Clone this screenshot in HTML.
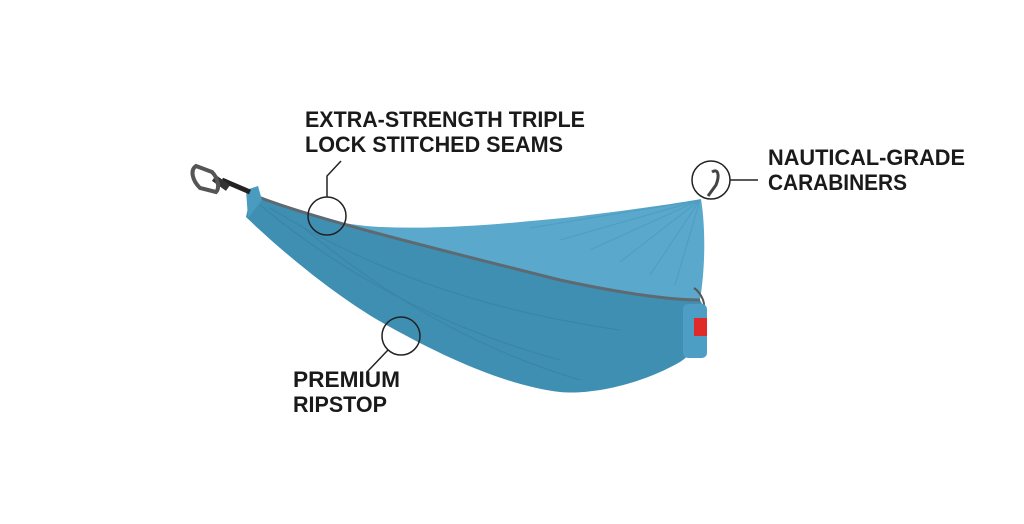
<!DOCTYPE html>
<html><head><style>html,body{margin:0;padding:0;background:#fff;}svg{display:block}</style></head>
<body>
<svg width="1024" height="524" viewBox="0 0 1024 524" xmlns="http://www.w3.org/2000/svg">
<rect width="1024" height="524" fill="#fff"/>
<!-- lower (outer) body -->
<path d="M251,194 C300,215 420,245 560,280 C620,293 670,300 700,300 C712,320 705,345 680,362 C640,385 590,395 560,392 C500,385 430,350 376,319 C320,285 270,240 246,217 Z" fill="#3f8fb3"/>
<!-- upper inner -->
<path d="M251,194 C300,215 340,225 380,227 C450,230 520,222 573,217 C630,210 680,203 701,199 C706,230 705,270 700,300 C670,300 620,293 560,280 C420,245 300,215 251,194 Z" fill="#5aa9cc"/>
<!-- pleats -->
<g stroke="#4b9ac0" stroke-width="1.2" fill="none" opacity="0.7">
<path d="M700,200 L560,240"/><path d="M700,200 L590,250"/><path d="M700,200 L620,262"/><path d="M700,200 L650,275"/><path d="M700,200 L675,285"/><path d="M700,200 L530,228"/>
</g>
<g stroke="#36809f" stroke-width="1.2" fill="none" opacity="0.6">
<path d="M260,205 C350,280 450,330 560,360"/><path d="M270,208 C370,270 480,310 620,330"/><path d="M300,225 C390,300 480,350 580,380"/>
</g>
<!-- seam -->
<path d="M251,194 C300,215 420,245 560,280 C620,293 670,300 700,300" stroke="#5d6a72" stroke-width="3" fill="none"/>
<!-- left end & strap -->
<path d="M246,190 L258,186 L262,200 L248,218 Z" fill="#4a9bc0"/>
<path d="M222,180 L250,192" stroke="#222" stroke-width="5"/>
<path d="M214,178 L228,188" stroke="#333" stroke-width="7"/>
<!-- left carabiner -->
<path d="M196,166 C190,170 192,180 200,188 L216,192 C220,188 218,178 212,172 Z" fill="none" stroke="#555" stroke-width="4"/>
<!-- right carabiner -->
<path d="M712,172 C718,168 720,175 716,185 L708,196" stroke="#444" stroke-width="3" fill="none"/>
<!-- stuff sack -->
<path d="M694,288 C700,292 704,300 704,305" stroke="#555" stroke-width="2" fill="none"/>
<rect x="683" y="304" width="24" height="54" rx="5" fill="#4d9ec4"/>
<rect x="694" y="318" width="13" height="18" fill="#e02a2a"/>
<!-- callouts -->
<g stroke="#222" stroke-width="1.5" fill="none">
<circle cx="327" cy="216" r="19"/>
<path d="M327,197 L327,176 L341,161"/>
<circle cx="401" cy="336" r="19"/>
<path d="M388,350 L367,372"/>
<circle cx="711" cy="180" r="19"/>
<path d="M730,180 L758,180"/>
</g>
<g font-family="'Liberation Sans',sans-serif" font-weight="bold" font-size="22" fill="#1a1a1a">
<text x="305" y="127" textLength="280" lengthAdjust="spacingAndGlyphs">EXTRA-STRENGTH TRIPLE</text>
<text x="305" y="152" textLength="258" lengthAdjust="spacingAndGlyphs">LOCK STITCHED SEAMS</text>
<text x="768" y="165" textLength="197" lengthAdjust="spacingAndGlyphs">NAUTICAL-GRADE</text>
<text x="768" y="190" textLength="139" lengthAdjust="spacingAndGlyphs">CARABINERS</text>
<text x="293" y="387" textLength="107" lengthAdjust="spacingAndGlyphs">PREMIUM</text>
<text x="293" y="412" textLength="94" lengthAdjust="spacingAndGlyphs">RIPSTOP</text>
</g>
</svg>
</body></html>
